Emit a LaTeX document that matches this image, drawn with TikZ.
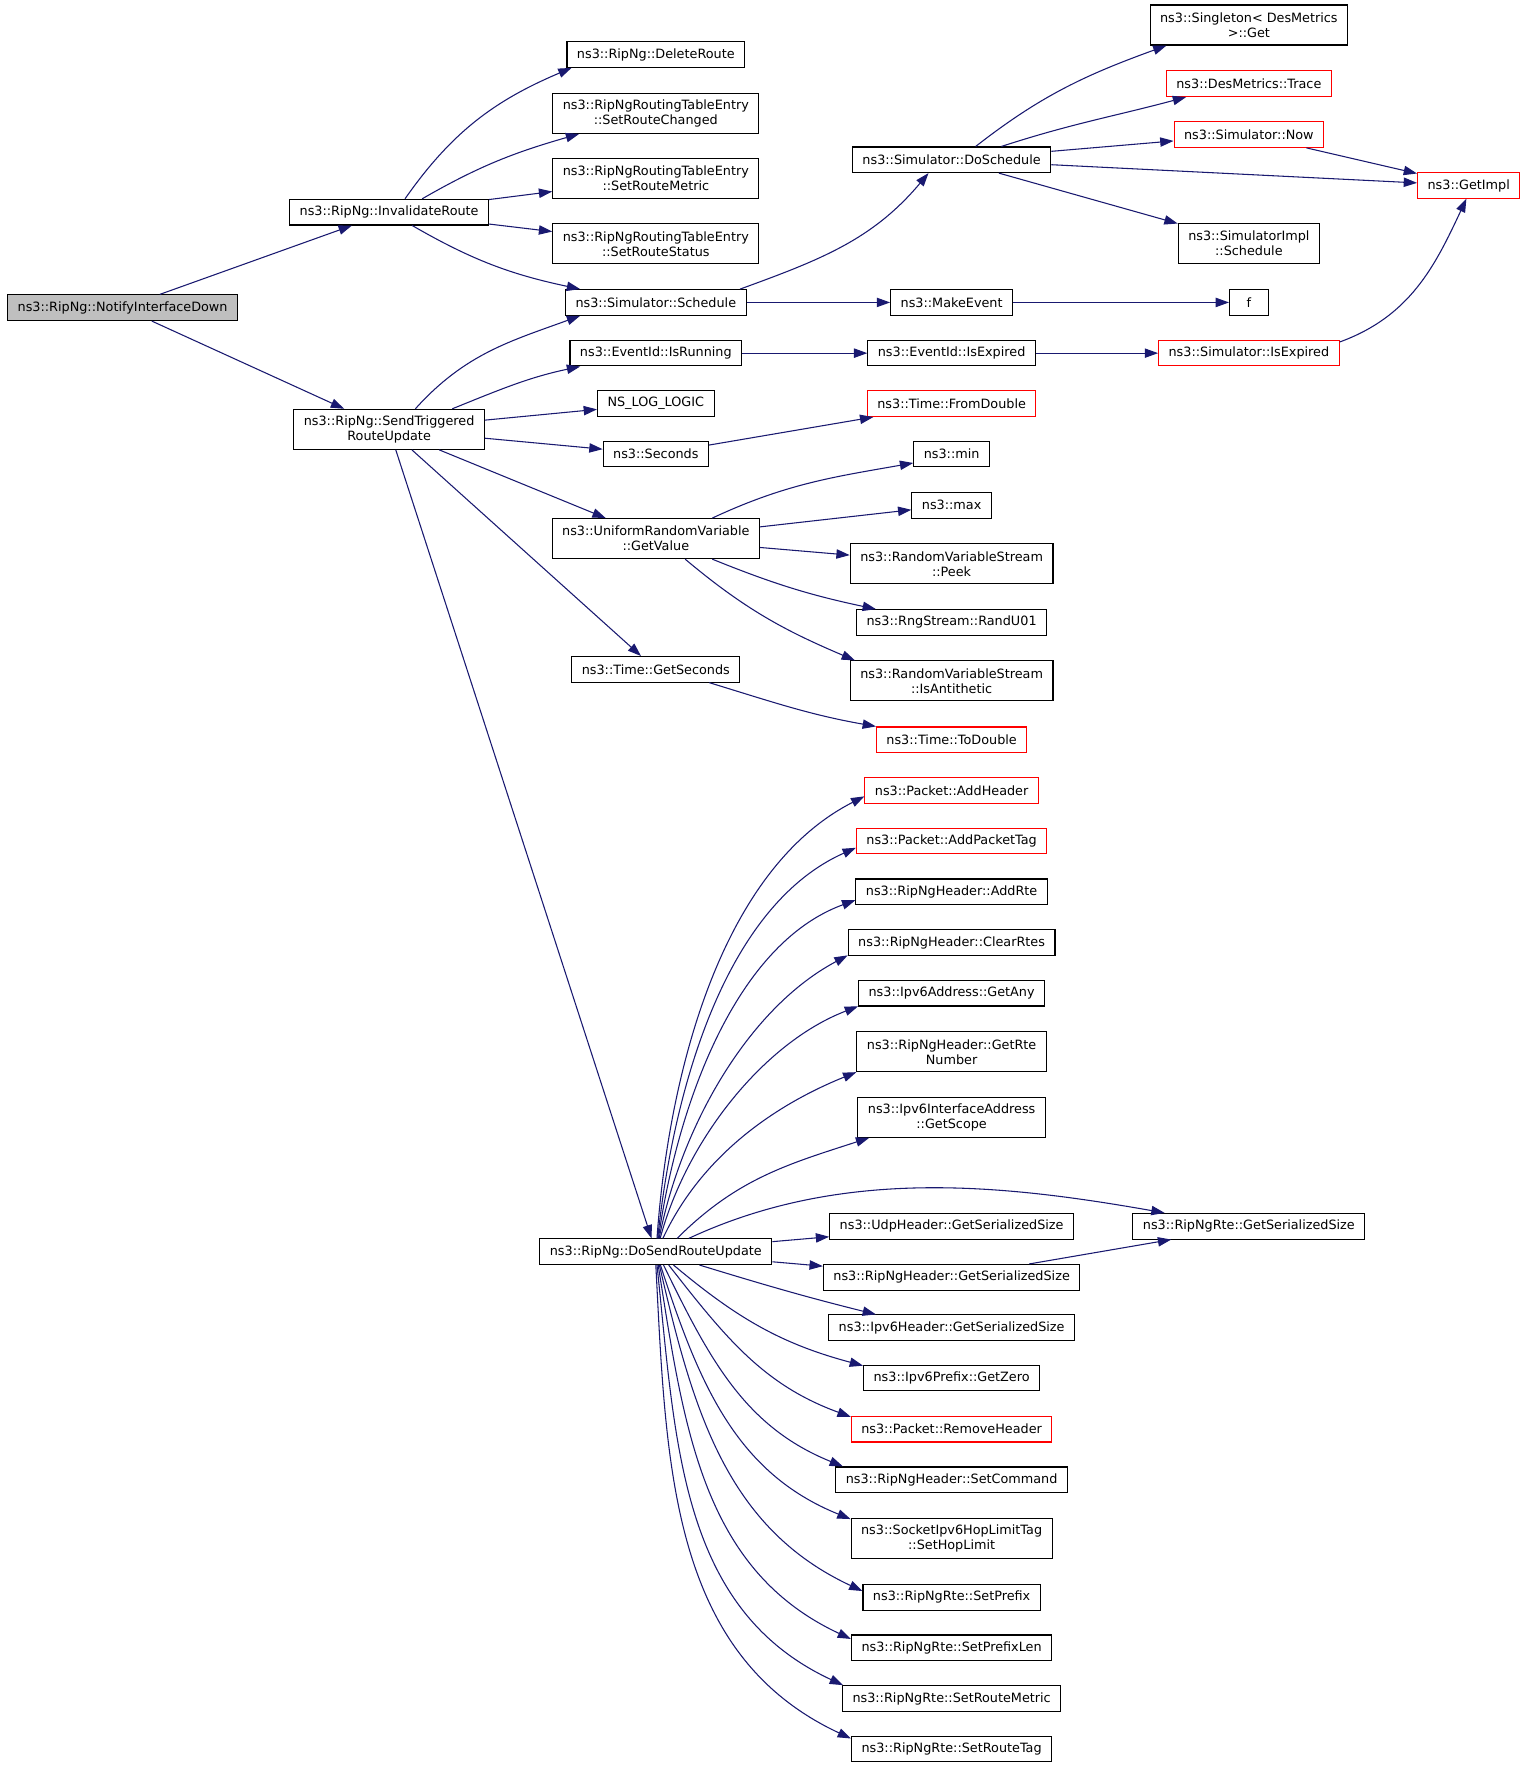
\documentclass[tikz,border=0pt]{standalone}
\usepackage{fontspec}
\setmainfont{DejaVu Sans}
\usetikzlibrary{arrows.meta}
\definecolor{edgeblue}{HTML}{191970}
\definecolor{rootgray}{HTML}{BFBFBF}

\begin{document}
\begin{tikzpicture}[
		x=0.845pt, y=0.845pt,
		fn/.style={rectangle, draw, fill=white, line width=0.8pt, inner xsep=7.5pt, inner ysep=2pt, minimum height=19.2pt, align=center, font=\fontsize{9.6}{11.25}\selectfont},
		fntwo/.style={fn, minimum height=30pt},
		fnred/.style={fn, draw=red},
		fnroot/.style={fn, fill=rootgray},
		call/.style={->, draw=edgeblue, line width=0.8pt},
		>={Triangle[length=10pt, width=7pt]}
	]

	\path[use as bounding box, fill=white] (0,0) rectangle (1356,-1569);

	\node[fnroot] (notify) at (108.8,-273.1) {ns3::RipNg::NotifyInterfaceDown};
	\node[fn] (inval) at (345.3,-188.3) {ns3::RipNg::InvalidateRoute};
	\node[fntwo] (sendtrig) at (345.3,-381) {ns3::RipNg::SendTriggered\\RouteUpdate};
	\node[fn] (dsru) at (582,-1110.8) {ns3::RipNg::DoSendRouteUpdate};

	\node[fn] (delroute) at (582,-48.4) {ns3::RipNg::DeleteRoute};
	\node[fntwo] (chgd) at (582,-100.6) {ns3::RipNgRoutingTableEntry\\::SetRouteChanged};
	\node[fntwo] (rmetric) at (582,-158.4) {ns3::RipNgRoutingTableEntry\\::SetRouteMetric};
	\node[fntwo] (rstatus) at (582,-216.4) {ns3::RipNgRoutingTableEntry\\::SetRouteStatus};
	\node[fn] (sched) at (582,-268.4) {ns3::Simulator::Schedule};
	\node[fn] (isrun) at (582,-313.4) {ns3::EventId::IsRunning};
	\node[fn] (nslog) at (582,-358.3) {NS\_LOG\_LOGIC};
	\node[fn] (seconds) at (582,-403) {ns3::Seconds};
	\node[fntwo] (getvalue) at (582,-478) {ns3::UniformRandomVariable\\::GetValue};
	\node[fn] (getsec) at (582,-594) {ns3::Time::GetSeconds};

	\node[fn] (dosched) at (844.5,-141.8) {ns3::Simulator::DoSchedule};
	\node[fn] (makeev) at (844.5,-268.4) {ns3::MakeEvent};
	\node[fn] (isexp) at (844.5,-313.4) {ns3::EventId::IsExpired};
	\node[fnred] (fromdbl) at (844.5,-358.3) {ns3::Time::FromDouble};
	\node[fn] (min) at (844.5,-403) {ns3::min};
	\node[fn] (max) at (844.5,-448.4) {ns3::max};
	\node[fntwo] (peek) at (844.5,-500.3) {ns3::RandomVariableStream\\::Peek};
	\node[fn] (randu) at (844.5,-552.4) {ns3::RngStream::RandU01};
	\node[fntwo] (antith) at (844.5,-604.3) {ns3::RandomVariableStream\\::IsAntithetic};
	\node[fnred] (todbl) at (844.5,-656.5) {ns3::Time::ToDouble};
	\node[fnred] (addhdr) at (844.5,-701.3) {ns3::Packet::AddHeader};
	\node[fnred] (addtag) at (844.5,-746.4) {ns3::Packet::AddPacketTag};
	\node[fn] (addrte) at (844.5,-791.4) {ns3::RipNgHeader::AddRte};
	\node[fn] (clear) at (844.5,-836.5) {ns3::RipNgHeader::ClearRtes};
	\node[fn] (getany) at (844.5,-881.4) {ns3::Ipv6Address::GetAny};
	\node[fntwo] (rtenum) at (844.5,-933.5) {ns3::RipNgHeader::GetRte\\Number};
	\node[fntwo] (scope) at (844.5,-991.5) {ns3::Ipv6InterfaceAddress\\::GetScope};
	\node[fn] (udpss) at (844.5,-1088.2) {ns3::UdpHeader::GetSerializedSize};
	\node[fn] (hdrss) at (844.5,-1133.5) {ns3::RipNgHeader::GetSerializedSize};
	\node[fn] (ip6ss) at (844.5,-1178.3) {ns3::Ipv6Header::GetSerializedSize};
	\node[fn] (zero) at (844.5,-1223) {ns3::Ipv6Prefix::GetZero};
	\node[fnred] (rmhdr) at (844.5,-1268.3) {ns3::Packet::RemoveHeader};
	\node[fn] (setcmd) at (844.5,-1313.2) {ns3::RipNgHeader::SetCommand};
	\node[fntwo] (hoplim) at (844.5,-1365.5) {ns3::SocketIpv6HopLimitTag\\::SetHopLimit};
	\node[fn] (setpfx) at (844.5,-1417.5) {ns3::RipNgRte::SetPrefix};
	\node[fn] (pfxlen) at (844.5,-1462.3) {ns3::RipNgRte::SetPrefixLen};
	\node[fn] (rtemet) at (844.5,-1507.3) {ns3::RipNgRte::SetRouteMetric};
	\node[fn] (rtetag) at (844.5,-1552.2) {ns3::RipNgRte::SetRouteTag};

	\node[fntwo] (single) at (1108.3,-22.2) {ns3::Singleton< DesMetrics\\>::Get};
	\node[fnred] (trace) at (1108.3,-74.3) {ns3::DesMetrics::Trace};
	\node[fnred] (now) at (1108.3,-119.4) {ns3::Simulator::Now};
	\node[fntwo] (simsched) at (1108.3,-216.2) {ns3::SimulatorImpl\\::Schedule};
	\node[fn, minimum width=29pt] (fnode) at (1108.3,-268.4) {f};
	\node[fnred] (simexp) at (1108.3,-313.4) {ns3::Simulator::IsExpired};
	\node[fn] (rtess) at (1108.3,-1088.2) {ns3::RipNgRte::GetSerializedSize};

	\node[fnred] (getimpl) at (1303.4,-164.6) {ns3::GetImpl};

	\foreach \i/\j in {notify/inval, notify/sendtrig, inval/rmetric, inval/rstatus, sendtrig/nslog, sendtrig/seconds, sendtrig/getvalue, sendtrig/getsec, sendtrig/dsru, sched/makeev, makeev/fnode, isrun/isexp, isexp/simexp, seconds/fromdbl, getvalue/max, getvalue/peek, dosched/now, dosched/getimpl, dosched/simsched, now/getimpl, dsru/udpss, dsru/hdrss, hdrss/rtess}
		\draw[call] (\i) -- (\j);

	\foreach \i/\j/\o/\n in {inval.40/delroute.189/55/203, inval.22/chgd.195/30/196, inval.330/sched.170/-30/168, sendtrig.38/sched.190/48/200, sendtrig.18/isrun.190/22/192, sched.9/dosched.210/20/230, simexp.7/getimpl.260/20/245, getvalue.20/min.193/25/190, getvalue.340/randu.170/-22/168, getvalue.325/antith.168/-40/157, getsec.346/todbl.170/-17/170, dosched.29/single.194/38/200, dosched.15/trace.192/18/195}
		\draw[call] (\i) to[out=\o, in=\n] (\j);

	\foreach \j/\a/\b/\o/\n/\l in {addhdr/85/184/86/207/0.85, addtag/82/184/84/204/0.85, addrte/79/185/82/200/0.85, clear/76/187/79/208/0.85, getany/72/188/75/201/0.85, rtenum/62/192/65/202/0.9, scope/32/194/45/198/1, rtess/22/171/25/170/0.9, ip6ss/343/170/-17/166/1, zero/323/172/-40/165/1, rmhdr/314/173/-52/160/1, setcmd/300/173/-64/158/1, hoplim/289/169/-72/158/1, setpfx/285/176/-77/155/1, pfxlen/280/175/-81/155/1, rtemet/275/173/-84/155/1, rtetag/270/174/-87/155/1}
		\draw[call] (dsru.\a) to[out=\o, in=\n, looseness=\l] (\j.\b);

\end{tikzpicture}
\end{document}
